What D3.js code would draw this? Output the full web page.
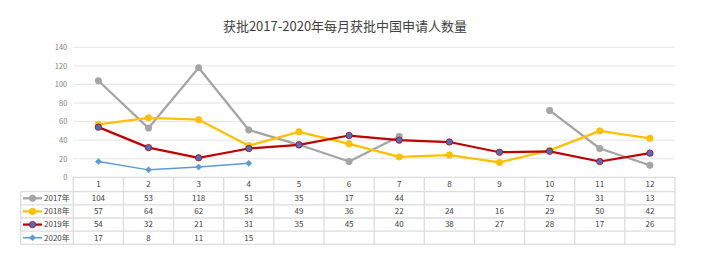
<!DOCTYPE html>
<html>
<head>
<meta charset="utf-8">
<script src="https://cdn.jsdelivr.net/npm/d3@7"></script>
<style>
  body { margin: 0; background: #fff; }
  svg { display: block; font-family: "Microsoft YaHei", "Noto Sans CJK SC", sans-serif; }
</style>
</head>
<body>
<div id="chart"></div>
<script>
'use strict';

var months = ['1', '2', '3', '4', '5', '6', '7', '8', '9', '10', '11', '12'];
var seriesNames = ['2017年', '2018年', '2019年', '2020年'];
var v2017 = [104, 53, 118, 51, 35, 17, 44, null, null, 72, 31, 13];
var v2018 = [57, 64, 62, 34, 49, 36, 22, 24, 16, 29, 50, 42];
var v2019 = [54, 32, 21, 31, 35, 45, 40, 38, 27, 28, 17, 26];
var v2020 = [17, 8, 11, 15, null, null, null, null, null, null, null, null];
var yTicks = [0, 20, 40, 60, 80, 100, 120, 140];
var title = '获批2017-2020年每月获批中国申请人数量';

var styles = [
  { color: '#a5a5a5', fill: '#a5a5a5', width: 2.25, marker: 'circle', r: 3.2 },
  { color: '#ffc000', fill: '#ffc000', width: 2.25, marker: 'circle', r: 3.2 },
  { color: '#c00000', fill: '#4472c4', width: 2.25, marker: 'circle', r: 3.2 },
  { color: '#5b9bd5', fill: '#5b9bd5', width: 1.5, marker: 'diamond', r: 3 }
];

var series = [v2017, v2018, v2019, v2020].map(function(vals, i) {
  return { name: seriesNames[i], values: vals, style: styles[i] };
});

var chartW = 719, chartH = 267;
var plotLeft = 73.3, plotRight = 675, plotTop = 47.3, plotBottom = 177.3;
var labelLeft = 20.7;
var headerH = 14.4, rowH = 13.15;
var gridColor = '#e4e4e4', tableColor = '#dcdcdc', textColor = '#404040';

var svg = d3.select('#chart').append('svg')
  .attr('width', chartW)
  .attr('height', chartH);

var x = d3.scaleBand().domain(months).range([plotLeft, plotRight]);
var y = d3.scaleLinear().domain([0, 140]).range([plotBottom, plotTop]);

function cx(j) { return x(months[j]) + x.bandwidth() / 2; }

// title
svg.append('text')
  .attr('x', 345)
  .attr('y', 31)
  .attr('text-anchor', 'middle')
  .style('font-size', '13px')
  .style('fill', textColor)
  .text(title);

// gridlines
svg.append('g').selectAll('line')
  .data(yTicks.slice(1))
  .enter().append('line')
  .attr('x1', plotLeft).attr('x2', plotRight)
  .attr('y1', function(d) { return y(d); })
  .attr('y2', function(d) { return y(d); })
  .style('stroke', gridColor)
  .style('stroke-width', 1);

// y axis
var yAxis = svg.append('g')
  .attr('transform', 'translate(' + (plotLeft - 6) + ',0)')
  .call(d3.axisLeft(y).tickValues(yTicks).tickSize(0).tickPadding(0));
yAxis.select('.domain').remove();
yAxis.selectAll('text')
  .style('font-size', '7.5px')
  .style('fill', '#7f7f7f')
  .style('font-family', '"Microsoft YaHei", "Noto Sans CJK SC", sans-serif');

// table
var tableBottom = plotBottom + headerH + rowH * series.length;
var table = svg.append('g');

table.append('line')
  .attr('x1', plotLeft).attr('x2', plotRight)
  .attr('y1', plotBottom).attr('y2', plotBottom)
  .style('stroke', tableColor).style('stroke-width', 1.3);

d3.range(series.length + 1).forEach(function(i) {
  var yy = plotBottom + headerH + i * rowH;
  table.append('line')
    .attr('x1', labelLeft).attr('x2', plotRight)
    .attr('y1', yy).attr('y2', yy)
    .style('stroke', tableColor).style('stroke-width', 1.3);
});

table.append('line')
  .attr('x1', labelLeft).attr('x2', labelLeft)
  .attr('y1', plotBottom + headerH).attr('y2', tableBottom)
  .style('stroke', tableColor).style('stroke-width', 1.3);

table.selectAll('line.col')
  .data(d3.range(months.length + 1))
  .enter().append('line')
  .attr('class', 'col')
  .attr('x1', function(i) { return plotLeft + i * x.bandwidth(); })
  .attr('x2', function(i) { return plotLeft + i * x.bandwidth(); })
  .attr('y1', plotBottom).attr('y2', tableBottom)
  .style('stroke', tableColor).style('stroke-width', 1.3);

// header labels
table.selectAll('text.month')
  .data(months)
  .enter().append('text')
  .attr('class', 'month')
  .attr('x', function(d, j) { return cx(j); })
  .attr('y', plotBottom + headerH / 2)
  .attr('dy', '0.35em')
  .attr('text-anchor', 'middle')
  .style('font-size', '8px')
  .style('fill', textColor)
  .text(function(d) { return d; });

function drawMarker(g, s, px, py) {
  if (s.marker === 'diamond') {
    g.append('path')
      .attr('d', d3.symbol().type(d3.symbolDiamond2).size(s.r * s.r * 2.6)())
      .attr('transform', 'translate(' + px + ',' + py + ')')
      .style('fill', s.fill)
      .style('stroke', s.color)
      .style('stroke-width', 0.6);
  } else {
    g.append('circle')
      .attr('cx', px).attr('cy', py).attr('r', s.r)
      .style('fill', s.fill)
      .style('stroke', s.color)
      .style('stroke-width', 0.8);
  }
}

// data rows with legend keys
series.forEach(function(s, i) {
  var rowY = plotBottom + headerH + i * rowH + rowH / 2;
  var row = table.append('g');

  row.append('line')
    .attr('x1', 23).attr('x2', 42)
    .attr('y1', rowY).attr('y2', rowY)
    .style('stroke', s.style.color)
    .style('stroke-width', s.style.width);
  drawMarker(row, s.style, 32.5, rowY);

  row.append('text')
    .attr('x', 44)
    .attr('y', rowY)
    .attr('dy', '0.35em')
    .style('font-size', '8px')
    .style('fill', textColor)
    .text(s.name);

  var cells = s.values
    .map(function(v, j) { return { v: v, j: j }; })
    .filter(function(d) { return d.v !== null; });

  row.selectAll('text.val')
    .data(cells)
    .enter().append('text')
    .attr('class', 'val')
    .attr('x', function(d) { return cx(d.j); })
    .attr('y', rowY)
    .attr('dy', '0.35em')
    .attr('text-anchor', 'middle')
    .style('font-size', '8px')
    .style('fill', textColor)
    .text(function(d) { return d.v; });
});

// lines
var line = d3.line()
  .defined(function(d) { return d !== null; })
  .x(function(d, j) { return cx(j); })
  .y(function(d) { return y(d); });

var plot = svg.append('g');

series.forEach(function(s) {
  plot.append('path')
    .datum(s.values)
    .attr('d', line)
    .style('fill', 'none')
    .style('stroke', s.style.color)
    .style('stroke-width', s.style.width)
    .style('stroke-linejoin', 'round');

  var marks = plot.append('g');
  s.values.forEach(function(d, j) {
    if (d === null) return;
    drawMarker(marks, s.style, cx(j), y(d));
  });
});
</script>
</body>
</html>
